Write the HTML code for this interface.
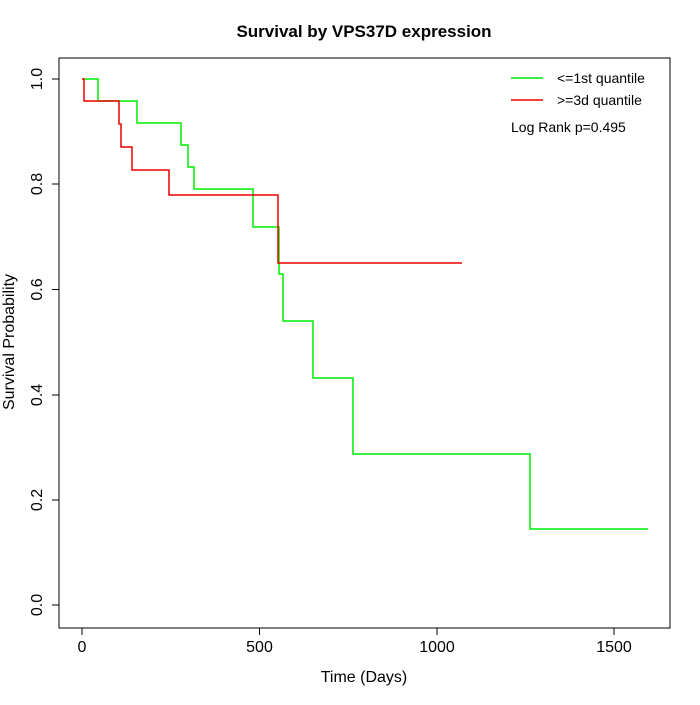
<!DOCTYPE html>
<html><head><style>body{margin:0;background:#fff}</style></head><body>
<svg width="700" height="700" xmlns="http://www.w3.org/2000/svg" font-family="Liberation Sans, sans-serif">
<rect width="700" height="700" fill="#fff"/>
<text x="364" y="37" font-size="17" font-weight="bold" text-anchor="middle">Survival by VPS37D expression</text>
<rect x="59" y="58" width="611" height="570" fill="none" stroke="#000"/>
<g stroke="#000">
<line x1="82" y1="628" x2="614" y2="628"/>
<line x1="82" y1="628" x2="82" y2="635"/><line x1="259.5" y1="628" x2="259.5" y2="635"/>
<line x1="437" y1="628" x2="437" y2="635"/><line x1="614" y1="628" x2="614" y2="635"/>
<line x1="59" y1="79" x2="59" y2="605"/>
<line x1="52" y1="79" x2="59" y2="79"/><line x1="52" y1="184" x2="59" y2="184"/>
<line x1="52" y1="289.5" x2="59" y2="289.5"/><line x1="52" y1="395" x2="59" y2="395"/>
<line x1="52" y1="500" x2="59" y2="500"/><line x1="52" y1="605" x2="59" y2="605"/>
</g>
<g font-size="16" text-anchor="middle">
<text x="82" y="652">0</text><text x="259.5" y="652">500</text><text x="437" y="652">1000</text><text x="614" y="652">1500</text>
<text x="364" y="682">Time (Days)</text>
</g>
<g font-size="16" text-anchor="middle">
<text transform="translate(42,79) rotate(-90)">1.0</text>
<text transform="translate(42,184) rotate(-90)">0.8</text>
<text transform="translate(42,289.5) rotate(-90)">0.6</text>
<text transform="translate(42,395) rotate(-90)">0.4</text>
<text transform="translate(42,500) rotate(-90)">0.2</text>
<text transform="translate(42,605) rotate(-90)">0.0</text>
<text transform="translate(14,342) rotate(-90)">Survival Probability</text>
</g>
<polyline fill="none" stroke="#00ee00" stroke-width="1.5" points="82,79 98,79 98,101 137,101 137,123 181,123 181,145 188,145 188,167 194,167 194,189 253,189 253,227 279,227 279,274 283,274 283,321 313,321 313,378 353,378 353,454 530,454 530,529 648,529"/>
<polyline fill="none" stroke="#ee0000" stroke-width="1.5" points="82,79 84,79 84,101 119,101 119,124 121,124 121,147 132,147 132,170 169,170 169,195 278,195 278,263 462,263"/>
<line x1="511" y1="78" x2="543" y2="78" stroke="#00ee00" stroke-width="1.5"/>
<line x1="511" y1="100" x2="543" y2="100" stroke="#ee0000" stroke-width="1.5"/>
<g font-size="14">
<text x="557" y="83">&lt;=1st quantile</text>
<text x="557" y="105">&gt;=3d quantile</text>
<text x="511" y="132">Log Rank p=0.495</text>
</g>
</svg>
</body></html>
